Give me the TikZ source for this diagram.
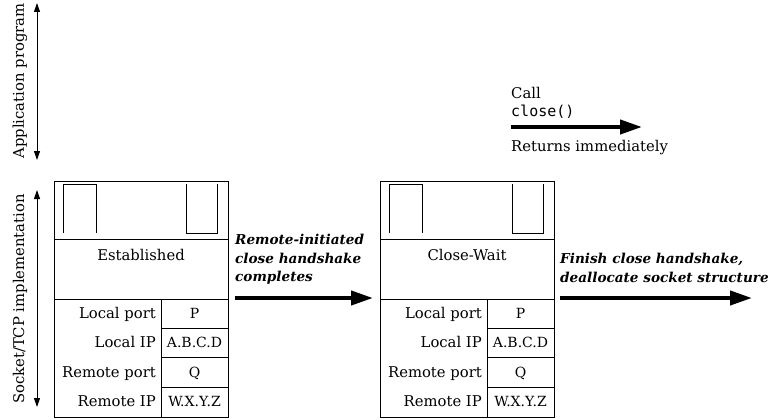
\documentclass[tikz,border=0pt]{standalone}
\usepackage{fontspec}
\setmainfont{DejaVu Serif}
\setmonofont{DejaVu Sans Mono}
\usetikzlibrary{arrows.meta}
\begin{document}
\begin{tikzpicture}[x=1pt,y=-1pt,
  boxline/.style={line width=1pt},
  bigarrow/.style={line width=4pt,-{Triangle[length=22pt,width=14pt]}},
  sidearrow/.style={line width=1pt,{Triangle[length=9pt,width=6pt]}-{Triangle[length=9pt,width=6pt]}},
  txt/.style={font=\fontsize{14.8}{18.5}\selectfont, inner sep=0pt},
  valtxt/.style={font=\fontsize{14}{18}\selectfont, inner sep=0pt, anchor=base},
  lbl/.style={font=\fontsize{13.6}{18.5}\selectfont\bfseries\itshape, inner sep=0pt, align=left}
]
\useasboundingbox[fill=white] (0,0) rectangle (776,420);

% side arrows and labels
\coordinate (apptop) at (37,3);
\coordinate (appbot) at (37,160);
\coordinate (socktop) at (37,190);
\coordinate (sockbot) at (37,407);
\draw[sidearrow] (apptop) -- (appbot);
\draw[sidearrow] (socktop) -- (sockbot);
\node[txt, rotate=90] (applbl) at (20,81) {Application program};
\node[txt, rotate=90] (socklbl) at (20,299) {Socket/TCP implementation};

% socket boxes
\foreach \i/\x/\s in {1/54/Established, 2/380/Close-Wait}{
  \node[draw, boxline, minimum width=174pt, minimum height=236pt, anchor=north west, inner sep=0pt] (box\i) at (\x,181) {};
  \draw[boxline] (\x,239) -- ({\x+174},239);
  \draw[boxline] (\x,299) -- ({\x+174},299);
  \draw[boxline] ({\x+107},299) -- ({\x+107},417);
  \foreach \y in {328,357,387}{
    \draw[boxline] ({\x+107},\y) -- ({\x+174},\y);
  }
  % open-ended slots
  \draw[boxline] ({\x+9},233) -- ({\x+9},184) -- ({\x+42},184) -- ({\x+42},233);
  \draw[boxline] ({\x+132},184) -- ({\x+132},233) -- ({\x+163},233) -- ({\x+163},184);
  \node[txt, anchor=base] (state\i) at ({\x+87},260) {\s};
  \node[txt, anchor=base east] (lp\i) at ({\x+102},318.5) {Local port};
  \node[txt, anchor=base east] (li\i) at ({\x+102},347.5) {Local IP};
  \node[txt, anchor=base east] (rp\i) at ({\x+102},377) {Remote port};
  \node[txt, anchor=base east] (ri\i) at ({\x+102},406.5) {Remote IP};
  \node[valtxt] (lpv\i) at ({\x+140.5},318.5) {P};
  \node[valtxt] (liv\i) at ({\x+140.5},347.5) {A.B.C.D};
  \node[valtxt] (rpv\i) at ({\x+140.5},377) {Q};
  \node[valtxt] (riv\i) at ({\x+140.5},406.5) {W.X.Y.Z};
}

% transition 1
\node[lbl, anchor=north west] (t1lbl) at (235,234) {Remote-initiated\\close handshake\\completes};
\coordinate (t1s) at (235,298);
\coordinate (t1e) at (373,298);
\draw[bigarrow] (t1s) -- (t1e);

% transition 2
\node[lbl, anchor=north west] (t2lbl) at (560,253) {Finish close handshake,\\deallocate socket structure};
\coordinate (t2s) at (560,298);
\coordinate (t2e) at (752,298);
\draw[bigarrow] (t2s) -- (t2e);

% call close
\node[txt, anchor=west] (call) at (511,93) {Call};
\node[txt, anchor=west, font=\fontsize{15}{18}\ttfamily] (closefn) at (511,112) {close()};
\coordinate (cs) at (511,127);
\coordinate (ce) at (642,127);
\draw[bigarrow] (cs) -- (ce);
\node[txt, anchor=west] (ret) at (511,148) {Returns immediately};
\end{tikzpicture}
\end{document}
